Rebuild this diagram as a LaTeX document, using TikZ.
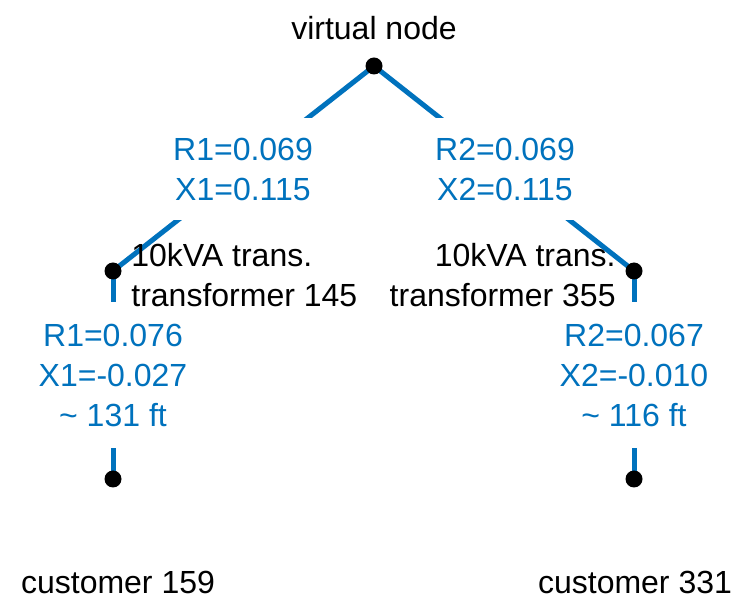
\documentclass[tikz,border=0pt]{standalone}
\usepackage{fontspec}
\setmainfont{Liberation Sans}
\usetikzlibrary{backgrounds}
\definecolor{mblue}{RGB}{0,114,189}
\begin{document}
\begin{tikzpicture}[x=0.5pt,y=-0.5pt,
  every node/.style={font=\fontsize{16}{20}\selectfont},
  dot/.style={circle,fill=black,inner sep=0pt,minimum size=8.5pt},
  edge/.style={draw=mblue,line width=2.5pt},
  elabel/.style={fill=white,text=mblue,align=center,inner xsep=2pt,inner ysep=0pt},
  nlabel/.style={text=black,inner sep=0pt}]
\useasboundingbox (0,0) rectangle (734,598);
% nodes
\node[dot] (v) at (374,66) {};
\node[dot] (t1) at (113,271) {};
\node[dot] (t2) at (634,271) {};
\node[dot] (c1) at (113,479) {};
\node[dot] (c2) at (634,479) {};
% edges
\begin{scope}[on background layer]
\fill[white] (0,0) rectangle (734,598);
\draw[edge] (v.center) -- (t1.center);
\draw[edge] (v.center) -- (t2.center);
\draw[edge] (t1.center) -- (c1.center);
\draw[edge] (t2.center) -- (c2.center);
\end{scope}
% edge labels
\node[elabel,minimum height=51pt] (e1) at (243,169) {R1=0.069\\X1=0.115};
\node[elabel,minimum height=51pt] (e2) at (505,169) {R2=0.069\\X2=0.115};
\node[elabel,minimum height=73pt] (e3) at (113,375) {R1=0.076\\X1=-0.027\\\textasciitilde{} 131 ft};
\node[elabel,minimum height=73pt] (e4) at (634,375) {R2=0.067\\X2=-0.010\\\textasciitilde{} 116 ft};
% node labels
\node[nlabel] (lv) at (374,28) {virtual node};
\node[nlabel,anchor=west,align=left] (l1) at (131,275) {10kVA trans.\\transformer 145};
\node[nlabel,anchor=east,align=right] (l2) at (616,275) {10kVA trans.\\transformer 355};
\node[nlabel] (lc1) at (118,582) {customer 159};
\node[nlabel] (lc2) at (635,582) {customer 331};
\end{tikzpicture}
\end{document}
